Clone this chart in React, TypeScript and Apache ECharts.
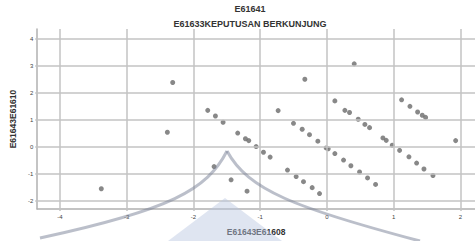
import React, { useEffect, useRef } from "react";
import * as echarts from "echarts";

const titleText = "E61641";
const subtitleText = "E61633KEPUTUSAN BERKUNJUNG";
const xName = "E61643E61608";
const yName = "E61643E61610";

const xTicks = [-4, -3, -2, -1, 0, 1, 2];
const yTicks = [-2, -1, 0, 1, 2, 3, 4];

const xs = [
  -3.38, -2.31, -2.39, -1.785, -1.67, -1.555, -1.336, -1.22, -1.17, -1.06, -0.95, -0.85,
  -1.69, -1.435, -1.196, 0.41, -0.33, -0.73, -0.5, -0.37, -0.26, -0.135, -0.01, 0.02,
  0.12, 0.25, 0.36, 0.49, 0.61, 0.73, -0.59, -0.46, -0.35, -0.22, -0.11, 0.12,
  0.27, 0.34, 0.47, 0.57, 0.64, 0.84, 0.89, 0.98, 1.09, 1.23, 1.345, 1.455,
  1.59, 1.12, 1.245, 1.36, 1.43, 1.48, 1.93,
];
const ys = [
  -1.54, 2.39, 0.55, 1.36, 1.15, 0.92, 0.52, 0.31, 0.24, 0.02, -0.19, -0.37,
  -0.72, -1.21, -1.63, 3.08, 2.51, 1.35, 0.88, 0.66, 0.46, 0.22, -0.03, -0.06,
  -0.24, -0.48, -0.69, -0.92, -1.14, -1.38, -0.85, -1.09, -1.28, -1.5, -1.72, 1.71,
  1.36, 1.28, 1.03, 0.84, 0.72, 0.34, 0.25, 0.07, -0.12, -0.36, -0.59, -0.81,
  -1.05, 1.75, 1.51, 1.3, 1.18, 1.1, 0.24,
];

export default function App() {
  const ref = useRef<HTMLDivElement>(null);
  useEffect(() => {
    if (!ref.current) return;
    const chart = echarts.init(ref.current, null, { renderer: "svg" });
    const font = "'Liberation Sans', Arial, sans-serif";
    const gridColor = "#c3c3c3";
    const gridLines = [
      ...xTicks.map((v) => ({ xAxis: v })),
      ...yTicks.map((v) => ({ yAxis: v })),
    ];
    chart.setOption({
      animation: false,
      backgroundColor: "#ffffff",
      title: [
        {
          text: titleText,
          left: 245,
          top: -1,
          textAlign: "center",
          textStyle: { fontFamily: font, fontSize: 9, fontWeight: "bold", color: "#333" },
        },
        {
          text: subtitleText,
          left: 245,
          top: 14,
          textAlign: "center",
          textStyle: { fontFamily: font, fontSize: 9, fontWeight: "bold", color: "#333" },
        },
      ],
      grid: { left: 37, right: 0, top: 29, bottom: 28, containLabel: false },
      xAxis: {
        type: "value",
        min: -4.34,
        max: 2.22,
        name: xName,
        nameLocation: "middle",
        nameGap: 18,
        nameTextStyle: { fontFamily: font, fontSize: 8.5, fontWeight: "bold", color: "#333" },
        axisLine: { show: true, onZero: false, lineStyle: { color: "#b0b0b0", width: 1.5 } },
        axisTick: {
          show: true,
          customValues: xTicks,
          length: 2,
          lineStyle: { color: gridColor, width: 1.5 },
        },
        splitLine: { show: false },
        axisLabel: {
          customValues: xTicks,
          fontFamily: font,
          fontSize: 6,
          color: "#444",
          margin: 5,
        },
      },
      yAxis: {
        type: "value",
        min: -2.29,
        max: 4.37,
        name: yName,
        nameLocation: "middle",
        nameGap: 15,
        nameRotate: 90,
        nameTextStyle: { fontFamily: font, fontSize: 8.5, fontWeight: "bold", color: "#333" },
        axisLine: { show: true, onZero: false, lineStyle: { color: "#b0b0b0", width: 1.5 } },
        axisTick: {
          show: true,
          customValues: yTicks,
          length: 2,
          lineStyle: { color: gridColor, width: 1.5 },
        },
        splitLine: { show: false },
        axisLabel: {
          customValues: yTicks,
          fontFamily: font,
          fontSize: 6,
          color: "#444",
          margin: 4,
        },
      },
      graphic: [
        {
          type: "polygon",
          z: 100,
          shape: { points: [[225, 198], [168, 241], [282, 241]] },
          style: { fill: "rgba(185,197,225,0.45)" },
        },
        {
          type: "bezierCurve",
          z: 101,
          shape: { x1: 227, y1: 151, cpx1: 207, cpy1: 190, cpx2: 170, cpy2: 210, x2: 40, y2: 238 },
          style: { stroke: "rgba(120,128,150,0.5)", lineWidth: 3, fill: "none" },
        },
        {
          type: "bezierCurve",
          z: 101,
          shape: { x1: 227, y1: 151, cpx1: 248, cpy1: 190, cpx2: 295, cpy2: 208, x2: 420, y2: 241 },
          style: { stroke: "rgba(120,128,150,0.5)", lineWidth: 3, fill: "none" },
        },
      ],
      series: [
        {
          type: "scatter",
          z: 1,
          silent: true,
          symbolSize: 0,
          itemStyle: { opacity: 0 },
          data: [[0, 0]],
          markLine: {
            silent: true,
            symbol: ["none", "none"],
            label: { show: false },
            lineStyle: { color: gridColor, type: "solid", width: 1.5 },
            data: gridLines,
          },
        },
        {
          type: "scatter",
          z: 3,
          symbolSize: 5,
          itemStyle: { color: "#6a6a6a" },
          data: xs.map((x, i) => [x, ys[i]]),
        },
      ],
    });
    return () => chart.dispose();
  }, []);
  return <div ref={ref} style={{ width: 475, height: 241, position: "absolute", left: 0, top: 0 }} />;
}
